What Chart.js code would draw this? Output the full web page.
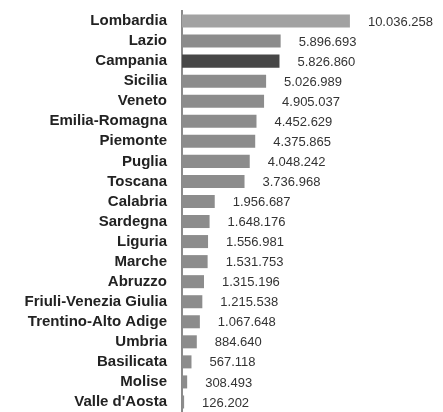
<!DOCTYPE html>
<html>
<head>
<meta charset="utf-8">
<script src="https://cdn.jsdelivr.net/npm/chart.js@4/dist/chart.umd.min.js"></script>
<style>
html,body{margin:0;padding:0;background:#fff;}
#wrap{width:443px;height:412px;}
</style>
</head>
<body>
<div id="wrap"><canvas id="popChart"></canvas></div>
<script>
// popolazione residente per regione
const regioni = ['Lombardia','Lazio','Campania','Sicilia','Veneto','Emilia-Romagna','Piemonte','Puglia','Toscana','Calabria','Sardegna','Liguria','Marche','Abruzzo','Friuli-Venezia Giulia','Trentino-Alto Adige','Umbria','Basilicata','Molise',"Valle d'Aosta"];
const residenti = [10036258,5896693,5826860,5026989,4905037,4452629,4375865,4048242,3736968,1956687,1648176,1556981,1531753,1315196,1215538,1067648,884640,567118,308493,126202];

const barColors = regioni.map(r => r == 'Campania' ? '#474747' : (r == 'Lombardia' ? '#a2a2a2' : '#8c8c8c'));

function fmt(n){
  return String(n).replace(/\B(?=(\d{3})+(?!\d))/g, '.');
}

const valueLabels = {
  id:'valueLabels',
  afterDatasetsDraw(chart){
    const ctx = chart.ctx;
    const meta = chart.getDatasetMeta(0);
    ctx.save();
    ctx.font = '13px "Liberation Sans", Arial, sans-serif';
    ctx.fillStyle = '#333';
    ctx.textAlign = 'left';
    ctx.textBaseline = 'middle';
    meta.data.forEach((bar,i) => {
      ctx.fillText(fmt(residenti[i]), bar.x + 18, bar.y + 1);
    });
    ctx.restore();
  }
};

const popChart = new Chart(
document.getElementById('popChart'),
{
type:'bar',
data:{
labels:regioni,
datasets:[{
data:residenti,
backgroundColor:barColors,
barPercentage:0.65,
categoryPercentage:1
}]
},
options:{
indexAxis:'y',
responsive:true,
maintainAspectRatio:false,
animation:false,
layout:{padding:{top:11,bottom:0,left:0,right:0}},
plugins:{legend:{display:false},tooltip:{enabled:false}},
scales:{
x:{display:false,min:0,max:15600000},
y:{
grid:{display:false,drawTicks:false},
border:{display:true,color:'#8a8a8a',width:2},
ticks:{
autoSkip:false,
padding:15,
color:'#222',
font:{family:'"Liberation Sans", Arial, sans-serif',size:15,weight:'bold'}
},
afterFit(axis){
axis.width = 182;
axis.paddingTop = 0;
axis.paddingBottom = 0;
}
}
}
},
plugins:[valueLabels]
});
</script>
</body>
</html>
